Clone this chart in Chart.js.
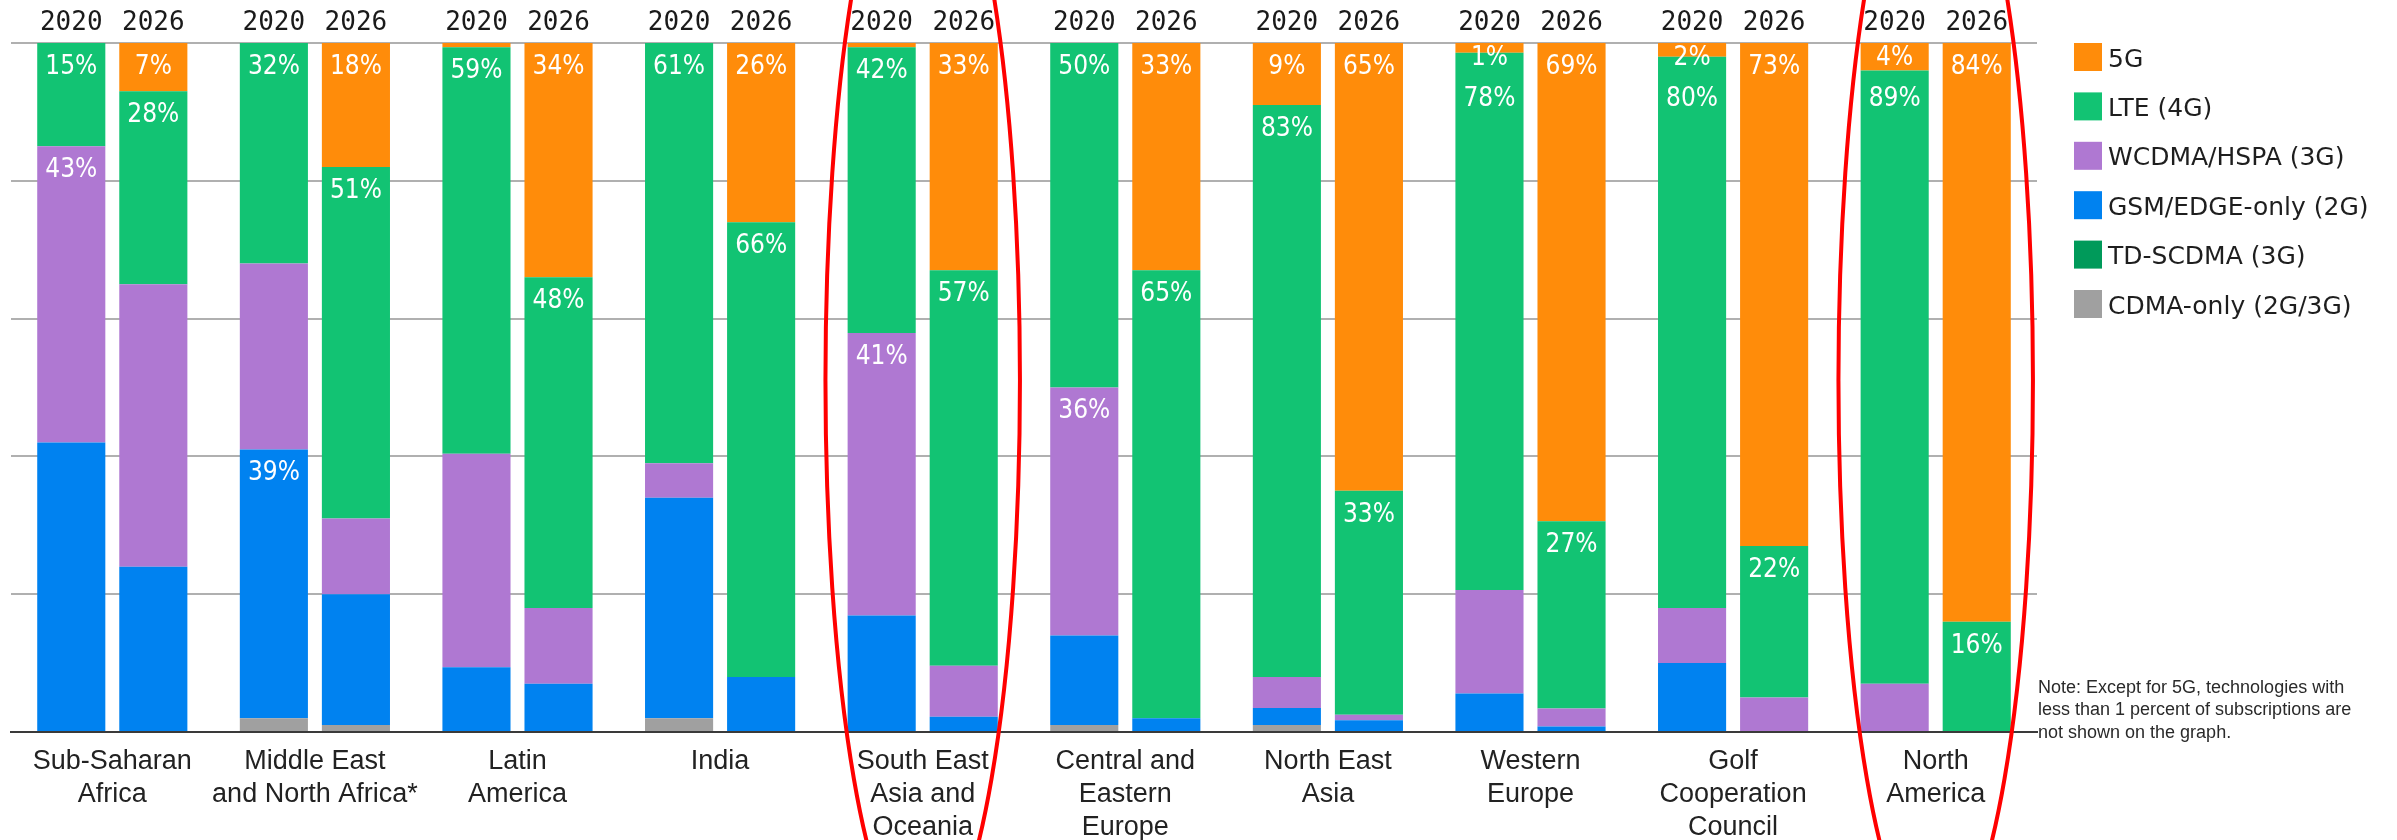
<!DOCTYPE html>
<html>
<head>
<meta charset="utf-8">
<title>Mobile subscriptions by region and technology, 2020 and 2026</title>
<script src="https://cdn.jsdelivr.net/npm/chart.js@4.4.1/dist/chart.umd.min.js"></script>
<style>
  html, body { margin: 0; padding: 0; background: #fff; }
</style>
</head>
<body>
<canvas id="techChart" width="2397" height="840"></canvas>
<script>
// regions (x axis), multi-line like the original
const regions = [
  ['Sub-Saharan', 'Africa'],
  ['Middle East', 'and North Africa*'],
  ['Latin', 'America'],
  ['India'],
  ['South East', 'Asia and', 'Oceania'],
  ['Central and', 'Eastern', 'Europe'],
  ['North East', 'Asia'],
  ['Western', 'Europe'],
  ['Golf', 'Cooperation', 'Council'],
  ['North', 'America']
];
const years = ['2020', '2026'];

// share of subscriptions, percent
const fiveG2020 = [0, 0, 0.6, 0, 0.6, 0, 9, 1.4, 2, 4];
const fiveG2026 = [7, 18, 34, 26, 33, 33, 65, 69.4, 73, 84];
const lte2020 = [15, 32, 59, 61, 41.5, 50, 83, 78, 80, 89];
const lte2026 = [28, 51, 48, 66, 57.4, 65, 32.5, 27.2, 22, 16];
const wcdma2020 = [43, 27, 31, 5, 41, 36, 4.5, 15, 8, 7];
const wcdma2026 = [41, 11, 11, 0, 7.4, 0, 0.8, 2.6, 5, 0];
const gsm2020 = [42, 39, 9.4, 32, 16.9, 13, 2.5, 5.6, 10, 0];
const gsm2026 = [24, 19, 7, 8, 2.2, 2, 1.7, 0.8, 0, 0];
const tdscdma2020 = [0, 0, 0, 0, 0, 0, 0, 0, 0, 0];
const tdscdma2026 = [0, 0, 0, 0, 0, 0, 0, 0, 0, 0];
const cdma2020 = [0, 2, 0, 2, 0, 1, 1, 0, 0, 0];
const cdma2026 = [0, 1, 0, 0, 0, 0, 0, 0, 0, 0];

// which 3G/2G segments carry a printed value (5G and LTE always do)
const wcdmaLabelled2020 = [0, 4, 5];
const gsmLabelled2020 = [1];

// regions circled in red
const circled = [4, 9];

// bottom of stack first
const series = [
  { name: 'CDMA-only (2G/3G)', color: '#a0a0a0', values: { '2020': cdma2020, '2026': cdma2026 } },
  { name: 'TD-SCDMA (3G)', color: '#009a5a', values: { '2020': tdscdma2020, '2026': tdscdma2026 } },
  { name: 'GSM/EDGE-only (2G)', color: '#0082f0', values: { '2020': gsm2020, '2026': gsm2026 } },
  { name: 'WCDMA/HSPA (3G)', color: '#af78d2', values: { '2020': wcdma2020, '2026': wcdma2026 } },
  { name: 'LTE (4G)', color: '#12c373', values: { '2020': lte2020, '2026': lte2026 } },
  { name: '5G', color: '#ff8c0a', values: { '2020': fiveG2020, '2026': fiveG2026 } }
];

const datasets = [];
series.forEach(function(s) {
  years.forEach(function(y) {
    datasets.push({
      label: s.name,
      data: s.values[y],
      backgroundColor: s.color,
      borderWidth: 0,
      stack: y
    });
  });
});

function isLabelled(name, year, i, v) {
  if (!v) return false;
  if (name === '5G') return v >= 1;
  if (name === 'LTE (4G)') return true;
  if (year !== '2020') return false;
  if (name === 'WCDMA/HSPA (3G)') return wcdmaLabelled2020.indexOf(i) >= 0;
  if (name === 'GSM/EDGE-only (2G)') return gsmLabelled2020.indexOf(i) >= 0;
  return false;
}

const overlay = {
  id: 'overlay',
  afterDatasetsDraw(chart) {
    const ctx = chart.ctx;
    const area = chart.chartArea;
    ctx.save();

    // values inside the bars
    ctx.font = '26px "DejaVu Sans Condensed", "DejaVu Sans"';
    ctx.fillStyle = '#ffffff';
    ctx.textAlign = 'center';
    ctx.textBaseline = 'middle';
    years.forEach(function(year) {
      regions.forEach(function(r, i) {
        let prevY = -Infinity;
        for (let d = chart.data.datasets.length - 1; d >= 0; d--) {
          const ds = chart.data.datasets[d];
          if (ds.stack !== year) continue;
          const v = ds.data[i];
          if (!isLabelled(ds.label, year, i, v)) continue;
          const el = chart.getDatasetMeta(d).data[i];
          const h = el.base - el.y;
          let y = el.y + (h < 46 ? 15 : 24);
          y = Math.max(y, prevY + 41);
          ctx.fillText(Math.round(v) + '%', el.x, y);
          prevY = y;
        }
      });
    });

    // year above each bar
    ctx.font = '26px "DejaVu Sans Mono"';
    ctx.fillStyle = '#1a1a1a';
    chart.data.datasets.forEach(function(ds, d) {
      if (ds.label !== '5G') return;
      chart.getDatasetMeta(d).data.forEach(function(el) {
        ctx.fillText(ds.stack, el.x, area.top - 20);
      });
    });
    ctx.restore();
  },
  afterDraw(chart) {
    const ctx = chart.ctx;
    const area = chart.chartArea;
    const xs = chart.scales.x;
    ctx.save();

    // legend, top of stack first
    ctx.font = '25px "DejaVu Sans"';
    ctx.textAlign = 'left';
    ctx.textBaseline = 'middle';
    series.slice().reverse().forEach(function(s, k) {
      const top = area.top + k * 49.4;
      ctx.fillStyle = s.color;
      ctx.fillRect(area.right + 37, top, 28, 28);
      ctx.fillStyle = '#1e1e1e';
      ctx.fillText(s.name, area.right + 71, top + 17);
    });

    // note
    ctx.font = '18px "Liberation Sans"';
    ctx.fillStyle = '#2a2a2a';
    const note = ['Note: Except for 5G, technologies with',
                  'less than 1 percent of subscriptions are',
                  'not shown on the graph.'];
    note.forEach(function(line, k) {
      ctx.fillText(line, area.right + 1, area.bottom - 44 + k * 22.5);
    });

    // red ellipses
    const h = area.bottom - area.top;
    const catW = (area.right - area.left) / regions.length;
    ctx.strokeStyle = '#ff0000';
    ctx.lineWidth = 4;
    circled.forEach(function(i) {
      ctx.beginPath();
      ctx.ellipse(xs.getPixelForValue(i), area.top + 0.49 * h, 0.48 * catW, 0.818 * h, 0, 0, Math.PI * 2);
      ctx.stroke();
    });
    ctx.restore();
  }
};

new Chart(document.getElementById('techChart').getContext('2d'), {
  type: 'bar',
  data: { labels: regions, datasets: datasets },
  options: {
    responsive: false,
    animation: false,
    layout: { padding: { top: 43, left: 11, right: 360, bottom: 0 } },
    datasets: { bar: { categoryPercentage: 0.81, barPercentage: 0.83 } },
    plugins: {
      legend: { display: false },
      tooltip: { enabled: false }
    },
    scales: {
      x: {
        stacked: true,
        afterFit: function(scale) { scale.height = 108; },
        grid: { display: false, drawTicks: false },
        border: { display: true, color: '#3a3a3a', width: 2 },
        ticks: {
          font: { family: 'Liberation Sans', size: 27, lineHeight: 1.22 },
          color: '#222222',
          padding: 13,
          maxRotation: 0,
          autoSkip: false
        }
      },
      y: {
        stacked: true,
        min: 0,
        max: 100,
        ticks: { display: false, stepSize: 20 },
        border: { display: false },
        grid: {
          color: function(c) { return c.tick.value === 0 ? '#3a3a3a' : '#b0b0b0'; },
          lineWidth: 2,
          drawTicks: false
        }
      }
    }
  },
  plugins: [overlay]
});
</script>
</body>
</html>
